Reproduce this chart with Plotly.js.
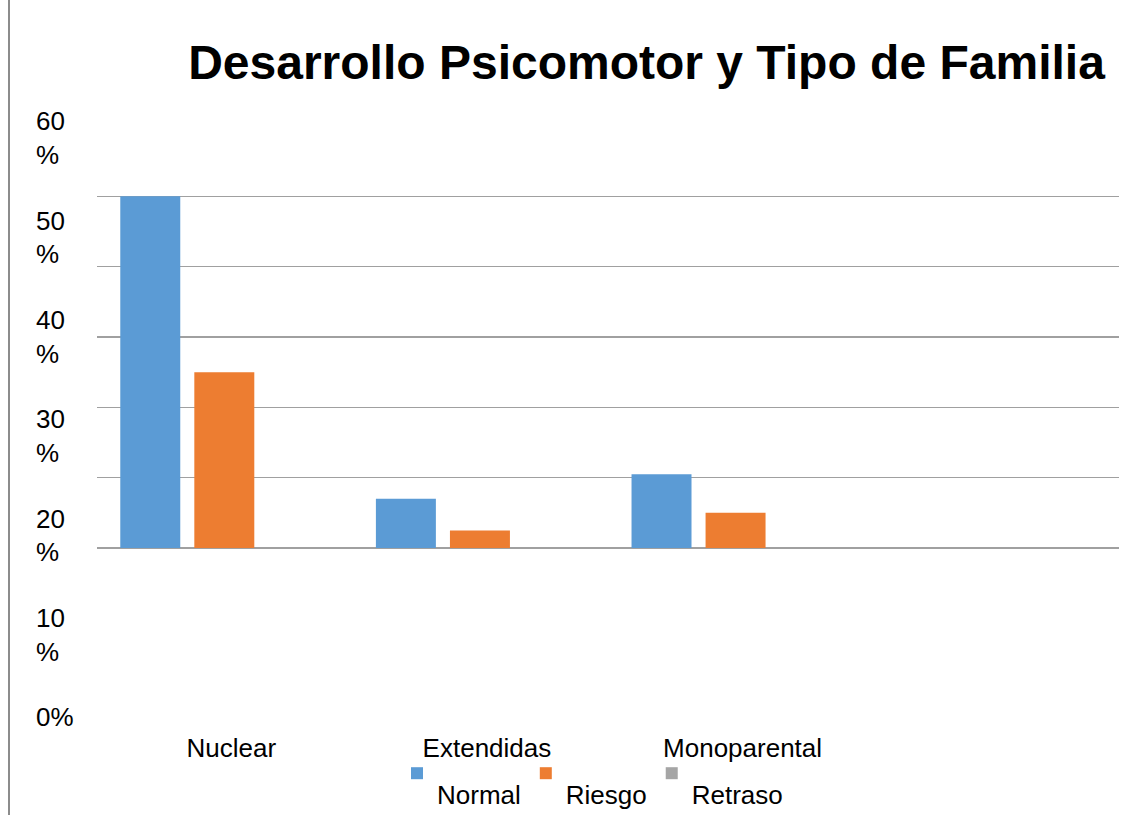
<!DOCTYPE html>
<html>
<head>
<meta charset="utf-8">
<script src="https://cdn.plot.ly/plotly-3.0.1.min.js"></script>
<style>html,body{margin:0;padding:0;background:#fff;}#chart{width:1135px;height:815px;}</style>
</head>
<body>
<div id="chart"></div>
<script>
const categories = ['Nuclear', 'Extendidas', 'Monoparental'];
const seriesNames = ['Normal', 'Riesgo', 'Retraso'];
const normalValues = [50, 7, 10.5];
const riesgoValues = [25, 2.5, 5];
const retrasoValues = [0, 0, 0];
const yTickValues = [0, 10, 20, 30, 40, 50, 60];
const yTickLabels = ['0%<br> ', '10<br>%', '20<br>%', '30<br>%', '40<br>%', '50<br>%', '60<br>%'];
const colors = ['#5b9bd5', '#ed7d31', '#a5a5a5'];

const W = 1135, H = 815;
const FONT = '"Liberation Sans", Arial, sans-serif';
const seriesValues = [normalValues, riesgoValues, retrasoValues];

const traces = seriesNames.map((n, i) => ({
  type: 'bar', name: ' <br><span style="font-size:26px">' + n + '</span>', x: categories, y: seriesValues[i],
  marker: {color: colors[i], line: {width: 0}}, hoverinfo: 'x+y'
}));
traces.push({type: 'scatter', mode: 'none', x: [categories[0]], y: [0], xaxis: 'x', yaxis: 'y2',
  showlegend: false, hoverinfo: 'skip'});

const layout = {
  width: W, height: H,
  margin: {l: 0, r: 0, t: 0, b: 0},
  paper_bgcolor: '#fff', plot_bgcolor: 'rgba(0,0,0,0)',
  font: {family: FONT, size: 26, color: '#000'},
  title: {text: 'Desarrollo Psicomotor y Tipo de Familia', font: {family: FONT, size: 48, weight: 'bold', color: '#000'},
    x: 646.5 / W, xanchor: 'center', xref: 'container', y: 1 - 62 / H, yanchor: 'middle', yref: 'container'},
  barmode: 'group', bargap: 0.131, bargroupgap: 0.19,
  xaxis: {type: 'category', domain: [96.5 / W, 1119 / W], range: [-0.5, 3.5], showgrid: false, showline: false,
    ticks: '', automargin: false, tickfont: {size: 26, family: FONT, color: '#000'},
    ticklabelstandoff: 182, ticklabelshift: 7, zeroline: false},
  yaxis: {domain: [1 - 548 / H, 1 - 126 / H], range: [0, 60], tickvals: yTickValues, showticklabels: false,
    showgrid: true, gridcolor: '#a0a0a0', gridwidth: 1.5, zeroline: true, zerolinecolor: '#a0a0a0', zerolinewidth: 2,
    showline: false, ticks: '', automargin: false, fixedrange: true},
  yaxis2: {domain: [1 - 734 / H, 1 - 138 / H], range: [0, 60], anchor: 'free', position: 35 / W, side: 'right',
    tickvals: yTickValues, ticktext: yTickLabels, showgrid: false, zeroline: false, showline: false, ticks: '',
    tickfont: {size: 26, family: FONT, color: '#000'}, automargin: false},
  showlegend: true,
  legend: {orientation: 'h', x: 397 / W, xanchor: 'left', y: 0, yanchor: 'bottom', valign: 'top',
    font: {size: 18, family: FONT, color: '#000'}, bgcolor: 'rgba(0,0,0,0)', itemclick: false, traceorder: 'normal'},
  shapes: [{type: 'line', xref: 'paper', yref: 'paper', x0: 9 / W, x1: 9 / W, y0: 0, y1: 1,
    line: {color: '#8c8c8c', width: 2}}]
};

Plotly.newPlot('chart', traces, layout, {displayModeBar: false, staticPlot: true});
</script>
</body>
</html>
